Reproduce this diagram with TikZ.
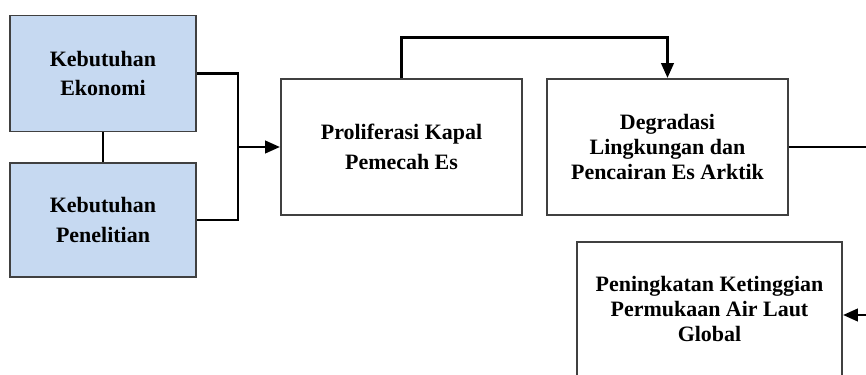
\documentclass[tikz,border=0pt]{standalone}
\usepackage{fontspec}
\setmainfont{Liberation Serif}
\usetikzlibrary{arrows.meta}
\definecolor{needblue}{RGB}{198,217,241}
\colorlet{box edge}{black!75}
\colorlet{link line}{black}
\def\boxfont{\bfseries\fontsize{12.5}{17}\selectfont}
\def\tightfont{\bfseries\fontsize{12.5}{14}\selectfont}
\tikzset{
  needbox/.style={draw=box edge, fill=needblue, line width=1.1pt, minimum width=3.72cm, minimum height=2.32cm, align=center, font=\boxfont},
  stagebox/.style={draw=box edge, fill=white, line width=1.1pt, minimum width=4.82cm, minimum height=2.72cm, align=center, font=\boxfont},
  tight/.style={font=\tightfont},
  link/.style={draw=link line, line width=1.7pt},
  flow/.style={link, -{Triangle[length=8.5pt,width=7pt]}}
}

\begin{document}
\begin{tikzpicture}[x=0.02cm, y=-0.02cm]
  \useasboundingbox (0,0) rectangle (866,375);
  \clip (0,0) rectangle (866,375);

  \node[needbox] (ekon) at (103,73.5) {Kebutuhan\\Ekonomi};
  \node[needbox, minimum height=2.28cm] (penel) at (103,220) {Kebutuhan\\Penelitian};

  \node[stagebox] (prolif) at (401.5,147) {Proliferasi Kapal\\Pemecah Es};
  \node[stagebox, tight] (degr) at (667.5,147) {Degradasi\\Lingkungan dan\\Pencairan Es Arktik};
  \node[stagebox, tight, minimum width=5.3cm, minimum height=2.68cm] (naik) at (709.5,309) {Peningkatan Ketinggian\\Permukaan Air Laut\\Global};

  % joins and loose ends
  \coordinate (join) at (238,147);
  \coordinate (outR) at (866,147);
  \coordinate (inR) at (866,315);

  \draw[link] (ekon.south) -- (penel.north);
  \draw[link] (ekon.east) -| (join) |- (penel.east);
  \draw[flow] (join) -- (prolif.west);
  \draw[flow] (prolif.north) -- ++(0,-41) -| (degr.north);
  \draw[link] (degr.east) -- (outR);
  \draw[flow] (inR) -- (inR -| naik.east);

\end{tikzpicture}
\end{document}
